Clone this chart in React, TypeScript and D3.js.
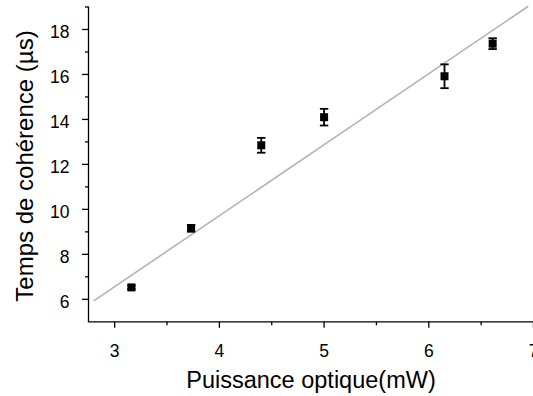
import React from "react";
import * as d3 from "d3";

const powerMW = [3.16, 3.73, 4.4, 5.0, 6.15, 6.61];
const coherenceUs = [6.53, 9.16, 12.85, 14.1, 15.92, 17.37];
const errorUs = [0.08, 0.15, 0.33, 0.37, 0.53, 0.24];
const xTicks = [3, 4, 5, 6, 7];
const xMinor = [3.5, 4.5, 5.5, 6.5];
const yTicks = [6, 8, 10, 12, 14, 16, 18];
const yMinor = [7, 9, 11, 13, 15, 17, 19];
const fitSlope = 3.157;
const fitIntercept = -2.908;
const fitRange = [2.8, 6.95];

const W = 533;
const H = 396;
const FONT = "'Liberation Sans', Arial, Helvetica, sans-serif";

export default function App() {
  const x = d3.scaleLinear().domain([2.75, 7]).range([88.5, 533.5]);
  const y = d3.scaleLinear().domain([5, 19]).range([321.8, 7]);
  const fitData = fitRange.map((v) => [v, fitSlope * v + fitIntercept] as [number, number]);
  const line = d3
    .line<[number, number]>()
    .x((d) => x(d[0]))
    .y((d) => y(d[1]));
  const x0 = x.range()[0];
  const y0 = y.range()[0];
  const ms = 8;
  const cap = 4.2;

  return (
    <svg
      width={W}
      height={H}
      style={{ position: "absolute", left: 0, top: 0, background: "#fff" }}
      fontFamily={FONT}
    >
      {/* fit line */}
      <path d={line(fitData) || ""} fill="none" stroke="#b3b3b3" strokeWidth={1.6} />

      {/* error bars and markers */}
      {powerMW.map((p, i) => {
        const cx = x(p);
        const cy = y(coherenceUs[i]);
        const top = y(coherenceUs[i] + errorUs[i]);
        const bot = y(coherenceUs[i] - errorUs[i]);
        return (
          <g key={i}>
            <line x1={cx} x2={cx} y1={top} y2={bot} stroke="#000" strokeWidth={1.8} />
            <line x1={cx - cap} x2={cx + cap} y1={top} y2={top} stroke="#000" strokeWidth={1.8} />
            <line x1={cx - cap} x2={cx + cap} y1={bot} y2={bot} stroke="#000" strokeWidth={1.8} />
            <rect x={cx - ms / 2} y={cy - ms / 2} width={ms} height={ms} fill="#000" />
          </g>
        );
      })}

      {/* y axis */}
      <line x1={x0} x2={x0} y1={y(19) - 0.5} y2={y0} stroke="#000" strokeWidth={1.3} />
      {yTicks.map((t) => (
        <g key={"yt" + t}>
          <line x1={x0 - 6.5} x2={x0} y1={y(t)} y2={y(t)} stroke="#000" strokeWidth={1.3} />
          <text x={69.5} y={y(t) + 9} fontSize={17.5} textAnchor="end" fill="#000">
            {t}
          </text>
        </g>
      ))}
      {yMinor.map((t) => (
        <line key={"ym" + t} x1={x0 - 3.5} x2={x0} y1={y(t)} y2={y(t)} stroke="#000" strokeWidth={1.3} />
      ))}

      {/* x axis */}
      <line x1={x0 - 0.6} x2={W} y1={y0} y2={y0} stroke="#000" strokeWidth={1.3} />
      {xTicks.map((t) => (
        <g key={"xt" + t}>
          <line x1={x(t)} x2={x(t)} y1={y0} y2={y0 + 6} stroke="#000" strokeWidth={1.3} />
          <text x={x(t)} y={357} fontSize={17.5} textAnchor="middle" fill="#000">
            {t}
          </text>
        </g>
      ))}
      {xMinor.map((t) => (
        <line key={"xm" + t} x1={x(t)} x2={x(t)} y1={y0} y2={y0 + 3.5} stroke="#000" strokeWidth={1.3} />
      ))}

      {/* titles */}
      <text x={311} y={387.5} fontSize={23.5} textAnchor="middle" fill="#000">
        Puissance optique(mW)
      </text>
      <text
        transform={`translate(33,166) rotate(-90)`}
        fontSize={24}
        textAnchor="middle"
        fill="#000"
      >
        Temps de cohérence (µs)
      </text>
    </svg>
  );
}
